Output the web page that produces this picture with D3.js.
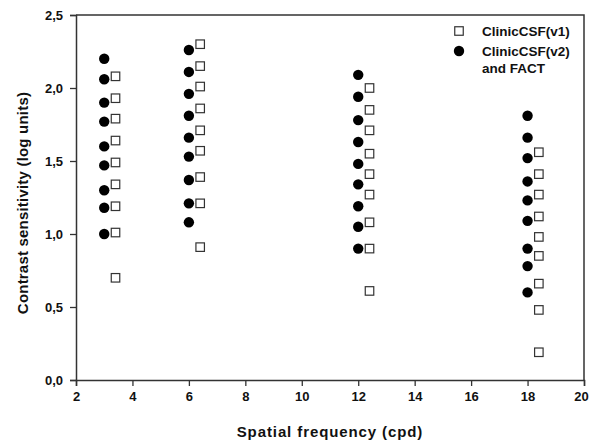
<!DOCTYPE html>
<html>
<head>
<meta charset="utf-8">
<script src="https://cdn.jsdelivr.net/npm/d3@7"></script>
<style>
  html, body { margin: 0; padding: 0; background: #fff; }
  svg text { font-family: "Liberation Sans", Arial, sans-serif; fill: #111; }
</style>
</head>
<body>
<svg id="chart" width="590" height="444"></svg>
<script>
// Spatial frequencies tested (cpd)
const frequencies = [3, 6, 12, 18];
// Horizontal offset of the v1 squares beside each frequency
const v1Offset = 0.4;

// ClinicCSF(v1) contrast sensitivity levels (log units), one list per frequency
const v1Levels = [
  [2.08, 1.93, 1.79, 1.64, 1.49, 1.34, 1.19, 1.01, 0.70],
  [2.30, 2.15, 2.01, 1.86, 1.71, 1.57, 1.39, 1.21, 0.91],
  [2.00, 1.85, 1.71, 1.55, 1.41, 1.27, 1.08, 0.90, 0.61],
  [1.56, 1.41, 1.27, 1.12, 0.98, 0.85, 0.66, 0.48, 0.19]
];

// ClinicCSF(v2) and FACT contrast sensitivity levels (log units)
const v2Levels = [
  [2.20, 2.06, 1.90, 1.77, 1.60, 1.47, 1.30, 1.18, 1.00],
  [2.26, 2.11, 1.96, 1.81, 1.66, 1.53, 1.37, 1.21, 1.08],
  [2.09, 1.94, 1.78, 1.63, 1.48, 1.34, 1.19, 1.05, 0.90],
  [1.81, 1.66, 1.52, 1.36, 1.23, 1.09, 0.90, 0.78, 0.60]
];

const xTicks = [2, 4, 6, 8, 10, 12, 14, 16, 18, 20];
const yTicks = [0, 0.5, 1.0, 1.5, 2.0, 2.5];
const legendLabels = [["ClinicCSF(v1)"], ["ClinicCSF(v2)", "and FACT"]];

const svg = d3.select("#chart");
const margin = { left: 76, right: 6, top: 15, bottom: 64 };
const W = 590, H = 444;

const x = d3.scaleLinear().domain([2, 20]).range([margin.left, W - margin.right]);
const y = d3.scaleLinear().domain([0, 2.5]).range([H - margin.bottom, margin.top]);

const comma = d3.format(".1f");
const fmt = v => comma(v).replace(".", ",");

// Frame: top and right borders
svg.append("path")
  .attr("d", `M${x(2)},${y(2.5)}H${x(20)}V${y(0)}`)
  .attr("fill", "none").attr("stroke", "#333").attr("stroke-width", 1.5);

// Axes
const xAxis = svg.append("g")
  .attr("transform", `translate(0,${y(0)})`)
  .call(d3.axisBottom(x).tickValues(xTicks).tickFormat(d3.format("d")).tickSize(6).tickPadding(6));
const yAxis = svg.append("g")
  .attr("transform", `translate(${x(2)},0)`)
  .call(d3.axisLeft(y).tickValues(yTicks).tickFormat(fmt).tickSize(6).tickPadding(7));

[xAxis, yAxis].forEach(g => {
  g.select(".domain").attr("stroke", "#333").attr("stroke-width", 1.5);
  g.selectAll(".tick line").attr("stroke", "#333").attr("stroke-width", 1.3);
  g.selectAll(".tick text")
    .attr("font-family", "Liberation Sans, Arial, sans-serif")
    .attr("font-size", 13).attr("font-weight", "bold").attr("fill", "#111");
});
// Keep the last x label inside the right edge of the page
xAxis.selectAll(".tick text").filter(d => d === 20).attr("dx", -3);

// Axis titles
svg.append("text")
  .attr("x", 330).attr("y", 437)
  .attr("text-anchor", "middle")
  .attr("font-size", 15).attr("font-weight", "bold")
  .attr("letter-spacing", 0.9)
  .text("Spatial frequency (cpd)");

svg.append("text")
  .attr("transform", `translate(28,203) rotate(-90)`)
  .attr("text-anchor", "middle")
  .attr("font-size", 15).attr("font-weight", "bold")
  .attr("letter-spacing", 0.2)
  .text("Contrast sensitivity (log units)");

const sq = 8.5, r = 5.2;

// ClinicCSF(v2) and FACT: filled circles
const v2Points = frequencies.flatMap((f, i) => v2Levels[i].map(v => ({ f, v })));
svg.append("g").selectAll("circle")
  .data(v2Points).join("circle")
  .attr("cx", d => x(d.f)).attr("cy", d => y(d.v))
  .attr("r", r).attr("fill", "#000");

// ClinicCSF(v1): open squares
const v1Points = frequencies.flatMap((f, i) => v1Levels[i].map(v => ({ f: f + v1Offset, v })));
svg.append("g").selectAll("rect")
  .data(v1Points).join("rect")
  .attr("x", d => x(d.f) - sq / 2).attr("y", d => y(d.v) - sq / 2)
  .attr("width", sq).attr("height", sq)
  .attr("fill", "#fff").attr("stroke", "#333").attr("stroke-width", 1.2);

// Legend
const lg = svg.append("g").attr("transform", "translate(459,0)");
lg.append("rect").attr("x", -sq / 2).attr("y", 31 - sq / 2)
  .attr("width", sq).attr("height", sq)
  .attr("fill", "#fff").attr("stroke", "#333").attr("stroke-width", 1.2);
lg.append("circle").attr("cx", 0).attr("cy", 51).attr("r", r).attr("fill", "#000");
const rows = [31, 51];
legendLabels.forEach((lines, i) => {
  const t = lg.append("text").attr("x", 23).attr("y", rows[i] + 5)
    .attr("font-size", 13.5).attr("font-weight", "bold");
  lines.forEach((s, j) => t.append("tspan").attr("x", 23).attr("dy", j ? 17 : 0).text(s));
});
</script>
</body>
</html>
